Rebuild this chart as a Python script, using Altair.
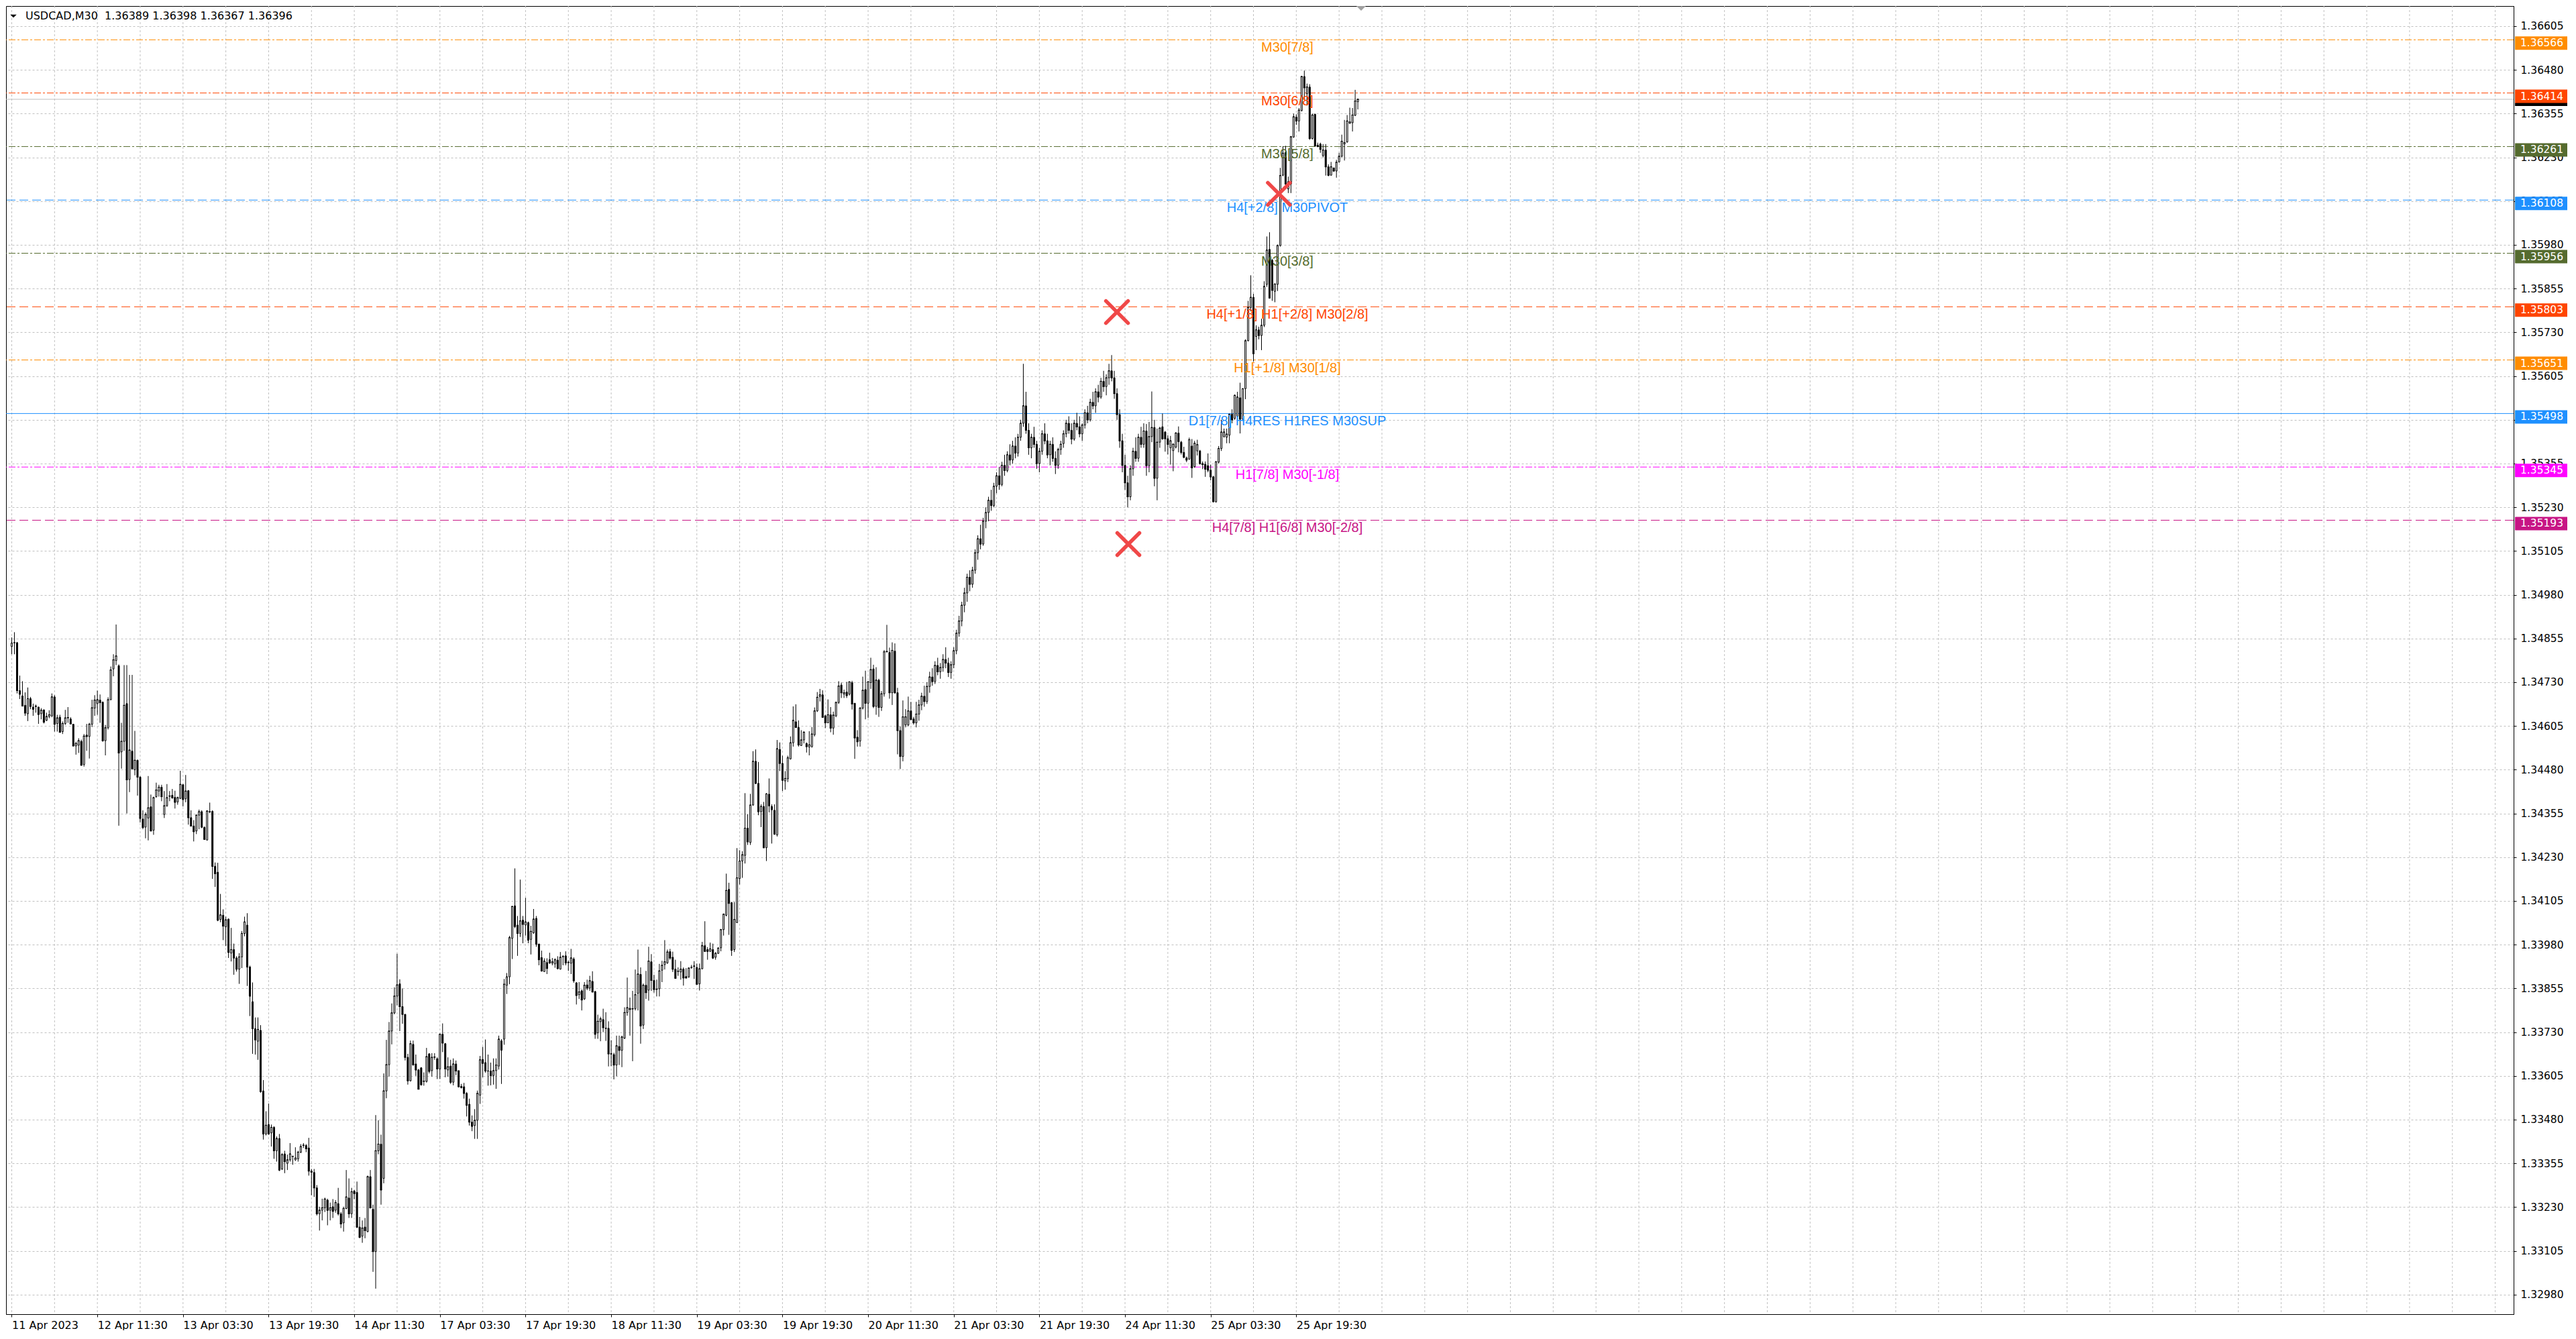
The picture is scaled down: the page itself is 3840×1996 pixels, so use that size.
import altair as alt
import pandas as pd

# ---------------- data: USDCAD M30 candles, prices in 1e-5 above 1.30000 ----------------
opens = [
    4832, 4843, 4843, 4706, 4691, 4664, 4640, 4683, 4659, 4662,
    4659, 4640, 4651, 4621, 4632, 4634, 4688, 4612, 4630, 4589,
    4612, 4628, 4625, 4610, 4548, 4550, 4561, 4495, 4579, 4575,
    4610, 4656, 4669, 4679, 4673, 4563, 4600, 4680, 4768, 4792,
    4777, 4531, 4561, 4669, 4452, 4533, 4480, 4507, 4459, 4339,
    4316, 4342, 4374, 4307, 4403, 4419, 4430, 4352, 4377, 4404,
    4407, 4401, 4388, 4398, 4437, 4397, 4420, 4343, 4319, 4305,
    4350, 4360, 4315, 4279, 4360, 4361, 4204, 4187, 4052, 4064,
    4031, 4053, 3956, 3966, 3942, 3910, 3945, 4012, 4036, 3916,
    3817, 3740, 3704, 3735, 3562, 3439, 3466, 3442, 3458, 3391,
    3426, 3339, 3382, 3355, 3365, 3375, 3365, 3368, 3387, 3406,
    3406, 3399, 3333, 3329, 3285, 3211, 3221, 3228, 3250, 3221,
    3231, 3221, 3240, 3211, 3185, 3226, 3256, 3211, 3276, 3272,
    3173, 3147, 3173, 3160, 3317, 3224, 3103, 3391, 3410, 3312,
    3562, 3637, 3733, 3785, 3833, 3868, 3803, 3781, 3658, 3591,
    3695, 3639, 3622, 3628, 3589, 3589, 3668, 3620, 3658, 3654,
    3625, 3724, 3697, 3622, 3633, 3587, 3639, 3620, 3575, 3574,
    3555, 3524, 3473, 3463, 3478, 3550, 3652, 3643, 3619, 3619,
    3606, 3620, 3633, 3705, 3710, 3864, 3888, 3998, 4091, 4036,
    4012, 4050, 4036, 4043, 3995, 4014, 4055, 3982, 3943, 3903,
    3929, 3937, 3927, 3925, 3936, 3910, 3946, 3948, 3929, 3927,
    3939, 3871, 3837, 3848, 3825, 3865, 3856, 3875, 3846, 3728,
    3760, 3766, 3741, 3741, 3668, 3666, 3636, 3689, 3678, 3713,
    3786, 3798, 3796, 3797, 3841, 3895, 3750, 3864, 3850, 3931,
    3878, 3852, 3854, 3907, 3923, 3928, 3960, 3944, 3910, 3904,
    3902, 3910, 3889, 3888, 3915, 3918, 3915, 3868, 3911, 3977,
    3966, 3961, 3966, 3944, 3955, 3971, 4023, 4064, 4138, 4100,
    3966, 4043, 4169, 4219, 4235, 4313, 4272, 4379, 4504, 4441,
    4360, 4375, 4257, 4410, 4375, 4364, 4294, 4538, 4498, 4448,
    4454, 4511, 4557, 4617, 4601, 4549, 4565, 4555, 4545, 4546,
    4580, 4648, 4689, 4694, 4634, 4614, 4637, 4599, 4634, 4672,
    4722, 4696, 4702, 4696, 4729, 4670, 4573, 4562, 4656, 4709,
    4670, 4729, 4768, 4661, 4736, 4658, 4697, 4817, 4815, 4700,
    4819, 4700, 4592, 4518, 4608, 4608, 4648, 4625, 4614,
    4639, 4665, 4690, 4675, 4718, 4745, 4732, 4778, 4760, 4772,
    4795, 4785, 4758, 4780, 4820, 4870, 4905, 4950, 4985, 5030,
    5010, 5050, 5100, 5140, 5125, 5190, 5215, 5250, 5235, 5290,
    5320, 5295, 5350, 5335, 5380, 5365, 5405, 5385, 5430, 5470,
    5520, 5450, 5400, 5430, 5410, 5355, 5390, 5440, 5420, 5380,
    5410, 5370, 5350, 5395, 5412, 5440, 5470, 5450, 5425, 5470,
    5460, 5440, 5465, 5500, 5480, 5530, 5520, 5560, 5545, 5590,
    5575, 5600, 5620, 5600, 5555, 5495, 5420, 5350, 5300, 5260,
    5340, 5390, 5370, 5430, 5410,
    5448, 5349, 5432, 5458, 5313, 5416, 5460, 5445, 5426, 5400,
    5392, 5402, 5442, 5416, 5387, 5371, 5368, 5405, 5346, 5391,
    5391, 5355, 5353, 5349, 5336, 5317, 5246, 5359, 5398, 5432,
    5430, 5436, 5496, 5484, 5490, 5543, 5482, 5569, 5706, 5801,
    5830, 5718, 5737, 5721, 5750, 5867, 5967, 5936, 5847, 5867,
    5978, 6179, 6244, 6140, 6154, 6288, 6345, 6334, 6364, 6461,
    6412, 6431, 6284, 6353, 6265, 6268, 6235, 6251, 6203, 6179,
    6200, 6191, 6217, 6233, 6268, 6274, 6327, 6329, 6350, 6389,
]
highs = [
    4858, 4873, 4845, 4749, 4733, 4701, 4715, 4688, 4669, 4666,
    4660, 4656, 4652, 4643, 4650, 4698, 4693, 4637, 4637, 4618,
    4651, 4659, 4630, 4611, 4560, 4570, 4566, 4582, 4611, 4614,
    4680, 4693, 4706, 4695, 4675, 4608, 4687, 4775, 4810, 4895,
    4781, 4614, 4779, 4779, 4751, 4751, 4591, 4509, 4461, 4364,
    4358, 4462, 4409, 4403, 4443, 4437, 4437, 4419, 4439, 4419,
    4425, 4420, 4403, 4477, 4439, 4465, 4422, 4364, 4336, 4352,
    4366, 4364, 4318, 4364, 4386, 4364, 4215, 4214, 4125, 4081,
    4060, 4055, 4028, 3983, 3947, 3956, 4019, 4060, 4070, 3920,
    3872, 3772, 3772, 3750, 3593, 3504, 3526, 3466, 3461, 3432,
    3439, 3384, 3391, 3380, 3413, 3377, 3401, 3391, 3410, 3413,
    3410, 3428, 3339, 3339, 3293, 3231, 3254, 3257, 3254, 3243,
    3253, 3250, 3285, 3216, 3231, 3336, 3312, 3285, 3279, 3303,
    3202, 3192, 3199, 3320, 3336, 3237, 3493, 3478, 3437, 3612,
    3708, 3759, 3812, 3858, 3954, 3881, 3855, 3781, 3668, 3706,
    3706, 3666, 3625, 3630, 3615, 3685, 3670, 3670, 3670, 3658,
    3726, 3755, 3699, 3658, 3651, 3655, 3649, 3620, 3582, 3585,
    3559, 3540, 3492, 3510, 3563, 3662, 3688, 3709, 3666, 3643,
    3655, 3655, 3720, 3710, 3882, 3899, 4005, 4091, 4198, 4062,
    4166, 4062, 4114, 4046, 4034, 4082, 4062, 3982, 3963, 3941,
    3941, 3957, 3942, 3941, 3947, 3959, 3950, 3961, 3934, 3968,
    3944, 3873, 3873, 3852, 3873, 3880, 3891, 3904, 3848, 3780,
    3774, 3797, 3787, 3761, 3707, 3671, 3720, 3720, 3720, 3801,
    3886, 3829, 3848, 3909, 3966, 3915, 3869, 3905, 3974, 3953,
    3894, 3880, 3925, 3934, 3993, 3966, 3968, 3960, 3937, 3915,
    3933, 3915, 3913, 3915, 3922, 3933, 3926, 3926, 3988, 4047,
    3973, 3986, 3983, 3959, 3973, 4025, 4069, 4183, 4157, 4102,
    4102, 4256, 4250, 4247, 4413, 4353, 4411, 4533, 4538, 4502,
    4381, 4388, 4413, 4455, 4381, 4381, 4565, 4558, 4520, 4476,
    4520, 4575, 4661, 4667, 4621, 4593, 4590, 4558, 4590, 4602,
    4658, 4702, 4711, 4707, 4637, 4681, 4659, 4646, 4675, 4733,
    4729, 4709, 4731, 4733, 4734, 4670, 4593, 4659, 4746, 4763,
    4734, 4800, 4780, 4773, 4740, 4705, 4822, 4894, 4829, 4844,
    4841, 4714, 4604, 4678, 4653, 4689, 4674, 4631, 4674,
    4680, 4700, 4720, 4730, 4760, 4770, 4790, 4800, 4785, 4810,
    4830, 4800, 4790, 4830, 4880, 4920, 4960, 5000, 5040, 5050,
    5060, 5110, 5150, 5180, 5200, 5230, 5260, 5280, 5300, 5330,
    5345, 5360, 5380, 5390, 5410, 5420, 5430, 5440, 5480, 5640,
    5560, 5470, 5440, 5460, 5420, 5400, 5450, 5470, 5440, 5420,
    5430, 5390, 5400, 5420, 5450, 5480, 5490, 5470, 5480, 5500,
    5490, 5470, 5510, 5520, 5540, 5560, 5570, 5580, 5600, 5620,
    5610, 5640, 5665, 5620, 5570, 5510, 5440, 5380, 5320, 5350,
    5400, 5430, 5440, 5460, 5470,
    5468, 5474, 5561, 5480, 5455, 5460, 5498, 5448, 5436, 5434,
    5413, 5445, 5461, 5420, 5403, 5375, 5429, 5425, 5420, 5423,
    5394, 5361, 5361, 5384, 5352, 5320, 5362, 5405, 5480, 5455,
    5455, 5496, 5510, 5552, 5560, 5586, 5569, 5710, 5820, 5893,
    5840, 5750, 5746, 5769, 5876, 6004, 6016, 5940, 5870, 5981,
    6200, 6262, 6263, 6175, 6291, 6355, 6353, 6371, 6463, 6478,
    6441, 6439, 6355, 6355, 6272, 6272, 6268, 6268, 6210, 6217,
    6200, 6223, 6243, 6295, 6337, 6351, 6372, 6371, 6423, 6398,
]
lows = [
    4810, 4810, 4698, 4682, 4662, 4634, 4619, 4653, 4634, 4643,
    4611, 4624, 4612, 4619, 4627, 4630, 4589, 4589, 4586, 4582,
    4608, 4614, 4611, 4547, 4523, 4528, 4491, 4489, 4534, 4512,
    4602, 4634, 4637, 4614, 4560, 4521, 4595, 4679, 4747, 4779,
    4320, 4483, 4534, 4355, 4416, 4480, 4464, 4406, 4329, 4310,
    4284, 4278, 4304, 4294, 4400, 4403, 4390, 4342, 4374, 4390,
    4397, 4369, 4380, 4396, 4375, 4387, 4323, 4318, 4275, 4296,
    4310, 4313, 4281, 4278, 4356, 4168, 4145, 4047, 4044, 3993,
    3976, 3942, 3932, 3894, 3903, 3868, 3913, 4004, 3862, 3776,
    3668, 3666, 3651, 3557, 3423, 3435, 3437, 3403, 3368, 3360,
    3333, 3336, 3327, 3336, 3360, 3351, 3362, 3360, 3384, 3399,
    3387, 3320, 3264, 3259, 3206, 3163, 3192, 3216, 3178, 3192,
    3199, 3214, 3206, 3170, 3160, 3224, 3199, 3199, 3253, 3170,
    3141, 3128, 3141, 3158, 3226, 3045, 2997, 3381, 3237, 3298,
    3541, 3603, 3695, 3781, 3807, 3733, 3754, 3649, 3580, 3589,
    3634, 3605, 3567, 3577, 3577, 3586, 3612, 3603, 3651, 3596,
    3596, 3673, 3601, 3603, 3582, 3578, 3607, 3572, 3569, 3540,
    3489, 3463, 3447, 3425, 3425, 3525, 3601, 3614, 3577, 3578,
    3580, 3568, 3623, 3582, 3694, 3839, 3867, 3939, 4027, 3948,
    4002, 3984, 4006, 3984, 3952, 4011, 3974, 3921, 3903, 3903,
    3896, 3925, 3921, 3914, 3909, 3909, 3921, 3921, 3905, 3896,
    3871, 3809, 3825, 3792, 3822, 3850, 3848, 3843, 3711, 3711,
    3704, 3730, 3705, 3632, 3633, 3595, 3604, 3636, 3630, 3710,
    3777, 3720, 3647, 3792, 3792, 3697, 3739, 3825, 3820, 3848,
    3843, 3832, 3832, 3873, 3909, 3925, 3937, 3902, 3883, 3891,
    3880, 3863, 3883, 3885, 3911, 3882, 3866, 3849, 3910, 3959,
    3937, 3959, 3939, 3937, 3954, 3961, 4006, 4061, 4008, 3948,
    3959, 4042, 4152, 4171, 4212, 4265, 4265, 4377, 4439, 4350,
    4316, 4256, 4219, 4358, 4269, 4294, 4289, 4476, 4419, 4423,
    4445, 4509, 4546, 4599, 4546, 4548, 4555, 4529, 4521, 4543,
    4575, 4645, 4675, 4629, 4599, 4614, 4587, 4580, 4630, 4668,
    4685, 4685, 4685, 4692, 4652, 4511, 4546, 4546, 4652, 4624,
    4628, 4711, 4656, 4637, 4631, 4648, 4689, 4815, 4683, 4665,
    4697, 4524, 4482, 4504, 4601, 4604, 4621, 4609, 4601,
    4620, 4650, 4660, 4668, 4700, 4720, 4725, 4750, 4740, 4760,
    4770, 4745, 4740, 4770, 4810, 4860, 4890, 4930, 4960, 4990,
    5000, 5040, 5080, 5110, 5120, 5170, 5190, 5220, 5230, 5270,
    5280, 5290, 5320, 5330, 5350, 5355, 5370, 5375, 5420, 5460,
    5440, 5380, 5370, 5400, 5340, 5330, 5380, 5410, 5370, 5350,
    5360, 5325, 5340, 5380, 5400, 5430, 5440, 5410, 5420, 5450,
    5430, 5420, 5455, 5470, 5475, 5510, 5500, 5530, 5540, 5560,
    5550, 5580, 5590, 5540, 5480, 5400, 5330, 5280, 5230, 5250,
    5320, 5360, 5360, 5400, 5400,
    5320, 5330, 5416, 5290, 5250, 5400, 5423, 5389, 5381, 5352,
    5333, 5398, 5387, 5381, 5370, 5359, 5365, 5314, 5343, 5378,
    5352, 5339, 5317, 5330, 5307, 5244, 5243, 5355, 5391, 5429,
    5413, 5413, 5470, 5480, 5478, 5441, 5480, 5539, 5704, 5790,
    5647, 5679, 5710, 5679, 5745, 5860, 5827, 5820, 5816, 5848,
    5975, 6176, 6149, 6128, 6128, 6286, 6323, 6304, 6361, 6395,
    6378, 6280, 6281, 6261, 6259, 6243, 6230, 6178, 6176, 6178,
    6189, 6172, 6215, 6230, 6221, 6272, 6326, 6304, 6348, 6367,
]
closes = [
    4842, 4843, 4706, 4696, 4662, 4642, 4683, 4661, 4653, 4661,
    4638, 4650, 4616, 4632, 4637, 4688, 4610, 4628, 4587, 4612,
    4628, 4629, 4611, 4548, 4555, 4563, 4493, 4576, 4575, 4610,
    4657, 4679, 4680, 4672, 4563, 4600, 4680, 4765, 4794, 4805,
    4528, 4561, 4664, 4451, 4536, 4483, 4507, 4459, 4341, 4315,
    4352, 4371, 4305, 4400, 4422, 4430, 4403, 4377, 4400, 4405,
    4400, 4387, 4400, 4438, 4395, 4419, 4343, 4319, 4303, 4350,
    4360, 4316, 4281, 4362, 4360, 4204, 4183, 4050, 4065, 4033,
    4051, 3958, 3966, 3942, 3910, 3945, 4012, 4045, 3916, 3833,
    3740, 3708, 3738, 3560, 3439, 3464, 3439, 3458, 3391, 3426,
    3336, 3380, 3360, 3365, 3382, 3375, 3370, 3387, 3403, 3407,
    3397, 3333, 3330, 3285, 3211, 3221, 3228, 3253, 3221, 3228,
    3218, 3243, 3211, 3182, 3226, 3259, 3211, 3274, 3269, 3173,
    3144, 3170, 3163, 3317, 3228, 3103, 3391, 3410, 3279, 3562,
    3637, 3733, 3785, 3833, 3865, 3803, 3781, 3658, 3591, 3697,
    3637, 3622, 3567, 3580, 3590, 3660, 3618, 3658, 3659, 3625,
    3724, 3699, 3625, 3631, 3587, 3639, 3619, 3574, 3572, 3555,
    3521, 3473, 3461, 3478, 3555, 3651, 3641, 3619, 3619, 3606,
    3620, 3636, 3710, 3679, 3867, 3888, 4000, 4089, 4032, 4012,
    4048, 4038, 4045, 3993, 4018, 4053, 3982, 3937, 3905, 3933,
    3912, 3928, 3931, 3937, 3912, 3944, 3946, 3928, 3929, 3942,
    3877, 3835, 3845, 3822, 3864, 3856, 3877, 3845, 3724, 3761,
    3768, 3743, 3741, 3668, 3668, 3636, 3691, 3678, 3716, 3786,
    3800, 3795, 3797, 3837, 3896, 3748, 3864, 3843, 3933, 3878,
    3852, 3853, 3905, 3921, 3931, 3959, 3942, 3910, 3884, 3904,
    3910, 3885, 3885, 3913, 3915, 3919, 3867, 3911, 3977, 3961,
    3961, 3968, 3942, 3955, 3970, 4023, 4067, 4135, 4098, 3964,
    4052, 4171, 4219, 4237, 4313, 4274, 4379, 4504, 4441, 4360,
    4375, 4257, 4411, 4377, 4366, 4296, 4540, 4498, 4450, 4455,
    4514, 4557, 4621, 4601, 4551, 4565, 4587, 4546, 4551, 4582,
    4648, 4687, 4694, 4630, 4614, 4637, 4599, 4636, 4672, 4719,
    4700, 4700, 4692, 4731, 4668, 4571, 4560, 4656, 4707, 4670,
    4731, 4766, 4661, 4736, 4658, 4697, 4817, 4818, 4700, 4821,
    4700, 4592, 4518, 4631, 4631, 4648, 4624, 4614, 4639,
    4665, 4690, 4675, 4718, 4745, 4732, 4778, 4760, 4772, 4795,
    4785, 4758, 4780, 4820, 4870, 4905, 4950, 4985, 5030, 5010,
    5050, 5100, 5140, 5125, 5190, 5215, 5250, 5235, 5290, 5320,
    5295, 5350, 5335, 5380, 5365, 5405, 5385, 5430, 5470, 5520,
    5450, 5400, 5430, 5410, 5355, 5390, 5440, 5420, 5380, 5410,
    5370, 5350, 5395, 5410, 5440, 5470, 5450, 5425, 5470, 5460,
    5440, 5465, 5500, 5480, 5530, 5520, 5560, 5545, 5590, 5575,
    5600, 5620, 5600, 5555, 5495, 5420, 5350, 5300, 5260, 5340,
    5390, 5370, 5430, 5410, 5448,
    5349, 5432, 5458, 5313, 5416, 5456, 5426, 5426, 5410, 5420,
    5410, 5442, 5418, 5387, 5373, 5365, 5423, 5343, 5413, 5409,
    5355, 5352, 5339, 5336, 5317, 5246, 5360, 5398, 5445, 5445,
    5439, 5496, 5480, 5550, 5545, 5482, 5569, 5706, 5801, 5830,
    5669, 5737, 5721, 5750, 5861, 5965, 5828, 5850, 5868, 5978,
    6178, 6242, 6154, 6160, 6289, 6346, 6334, 6365, 6461, 6429,
    6431, 6284, 6351, 6263, 6261, 6253, 6251, 6203, 6179, 6203,
    6191, 6216, 6233, 6276, 6272, 6334, 6331, 6351, 6391, 6396,
]
assert len(opens) == len(highs) == len(lows) == len(closes)

# time-axis labels (every 32 bars of M30)
x_label_texts = ["11 Apr 2023", "12 Apr 11:30", "13 Apr 03:30", "13 Apr 19:30",
                 "14 Apr 11:30", "17 Apr 03:30", "17 Apr 19:30", "18 Apr 11:30",
                 "19 Apr 03:30", "19 Apr 19:30", "20 Apr 11:30", "21 Apr 03:30",
                 "21 Apr 19:30", "24 Apr 11:30", "25 Apr 03:30", "25 Apr 19:30"]
x_label_step = 32

# price-axis ticks
y_tick_first = 1.32980
y_tick_step = 0.00125
y_tick_count = 30

# Murrey-math levels
level_prices = [1.36566, 1.36414, 1.36261, 1.36108, 1.35956,
                1.35803, 1.35651, 1.35498, 1.35345, 1.35193]
level_texts = ["M30[7/8]", "M30[6/8]", "M30[5/8]", "H4[+2/8] M30PIVOT", "M30[3/8]",
               "H4[+1/8] H1[+2/8] M30[2/8]", "H1[+1/8] M30[1/8]",
               "D1[7/8] H4RES H1RES M30SUP", "H1[7/8] M30[-1/8]", "H4[7/8] H1[6/8] M30[-2/8]"]
level_colors = ["#FF8C00", "#FF4500", "#556B2F", "#1E90FF", "#556B2F",
                "#FF4500", "#FF8C00", "#1E90FF", "#FF00FF", "#C71585"]
level_styles = ["dashdot", "dashdot", "dashdot", "dash", "dashdot",
                "dash", "dashdot", "solid", "dashdot", "dash"]

# red cross markers (bar index, price)
marker_bars = [413.0, 473.5, 417.25]
marker_prices = [1.35788, 1.36126, 1.35125]

title_text = "USDCAD,M30\u00a0 1.36389 1.36398 1.36367 1.36396"

# ---------------- layout ----------------
BASE = 1.30000
W, H = 3738, 1950
PX_PER_UNIT = 52160.0
Y_TOP = 1.366625
Y_BOT = Y_TOP - H / PX_PER_UNIT
X0 = -0.875
X1 = X0 + W / 4.0
LABEL_X = 1910
FONT = "DejaVu Sans"
GRID = "#C0C0C0"

n = len(closes)
o = [BASE + v * 1e-5 for v in opens]
c = [BASE + v * 1e-5 for v in closes]
hi = [max(BASE + v * 1e-5, a, b) for v, a, b in zip(highs, o, c)]
lo = [min(BASE + v * 1e-5, a, b) for v, a, b in zip(lows, o, c)]
candles = pd.DataFrame({
    "bar": list(range(n)), "open": o, "high": hi, "low": lo, "close": c,
    "dir": ["up" if cc >= oo else "down" for oo, cc in zip(o, c)],
})

xs = alt.Scale(domain=[X0, X1], nice=False, zero=False)
ys = alt.Scale(domain=[Y_BOT, Y_TOP], nice=False, zero=False)

x_label_bars = [k * x_label_step for k in range(len(x_label_texts))]
label_expr = "[" + ",".join("'%s'" % t for t in x_label_texts) + "][round(datum.value / %d)]" % x_label_step
xaxis = alt.Axis(values=x_label_bars, labelExpr=label_expr, grid=False, title=None,
                 labelFont=FONT, labelFontSize=16, labelColor="black", labelAlign="left",
                 labelBaseline="top", labelPadding=4, tickSize=4, tickColor="black",
                 domainColor="black", labelFlush=False, labelOverlap=False)
y_ticks = [round(y_tick_first + k * y_tick_step, 5) for k in range(y_tick_count)]
yaxis = alt.Axis(orient="right", values=y_ticks, format=".5f", title=None, grid=True,
                 gridColor=GRID, gridDash=[3, 3], gridWidth=1, labelFont=FONT,
                 labelFontSize=15.5, labelColor="black", labelPadding=6, tickSize=4,
                 tickColor="black", domainColor="black", labelOverlap=False)

X = lambda f: alt.X(f, scale=xs, axis=xaxis)
Y = lambda f: alt.Y(f, scale=ys, axis=yaxis)

# vertical grid every 16 bars
vgrid_df = pd.DataFrame({"bar": list(range(0, int(X1) + 1, 16))})
vgrid = alt.Chart(vgrid_df).mark_rule(color=GRID, strokeDash=[3, 3], strokeWidth=1).encode(
    x=X("bar:Q"))

levels = pd.DataFrame({"price": level_prices, "text": level_texts,
                       "color": level_colors, "style": level_styles})
dash_scale = alt.Scale(domain=["dashdot", "dash", "solid"],
                       range=[[10, 3, 3, 3], [13, 6], [1, 0]])
level_rules = alt.Chart(levels).mark_rule(strokeWidth=1).encode(
    y=Y("price:Q"),
    color=alt.Color("color:N", scale=None),
    strokeDash=alt.StrokeDash("style:N", scale=dash_scale, legend=None))

bid_df = pd.DataFrame({"price": [c[-1]]})
bid_rule = alt.Chart(bid_df).mark_rule(color="#BEBEBE", strokeWidth=1).encode(y=Y("price:Q"))

wicks = alt.Chart(candles).mark_rule(color="black", strokeWidth=1).encode(
    x=X("bar:Q"), y=Y("low:Q"), y2="high:Q")
bodies = alt.Chart(candles).mark_bar(size=2, stroke="black", strokeWidth=1).encode(
    x=X("bar:Q"), y=Y("open:Q"), y2="close:Q",
    fill=alt.Fill("dir:N", scale=alt.Scale(domain=["up", "down"], range=["white", "black"]),
                  legend=None))
dojis = alt.Chart(candles).mark_tick(orient="horizontal", size=3, thickness=1,
                                    color="black", opacity=1).encode(
    x=X("bar:Q"), y=Y("close:Q"))

level_text = alt.Chart(levels).mark_text(font="Liberation Sans", fontSize=20, align="center",
                                         baseline="alphabetic", dy=18).encode(
    x=alt.value(LABEL_X), y=Y("price:Q"), text="text:N",
    color=alt.Color("color:N", scale=None))

markers_df = pd.DataFrame({"bar": marker_bars, "price": marker_prices})
markers = alt.Chart(markers_df).mark_point(shape="M-1,-1L1,1M1,-1L-1,1", filled=False,
                                          size=1089, strokeWidth=5.5, color="#F04848",
                                          opacity=1, strokeCap="round").encode(
    x=X("bar:Q"), y=Y("price:Q"))

# price tags on the right axis
tag_df = pd.DataFrame({"price": level_prices, "color": level_colors,
                       "label": ["%.5f" % p for p in level_prices]})
tag_df["top"] = tag_df["price"] + 5 / PX_PER_UNIT
tag_df["bot"] = tag_df["price"] - 15 / PX_PER_UNIT
bid_tag = pd.DataFrame({"price": [c[-1]]})
bid_tag["top"] = bid_tag["price"] + 5 / PX_PER_UNIT
bid_tag["bot"] = bid_tag["price"] - 10 / PX_PER_UNIT
bid_box = alt.Chart(bid_tag).mark_rect(color="black").encode(
    x=alt.value(W + 2), x2=alt.value(W + 80), y=Y("top:Q"), y2="bot:Q")
tag_box = alt.Chart(tag_df).mark_rect().encode(
    x=alt.value(W + 2), x2=alt.value(W + 80), y=Y("top:Q"), y2="bot:Q",
    color=alt.Color("color:N", scale=None))
tag_text = alt.Chart(tag_df).mark_text(font=FONT, fontSize=15.5, align="left",
                                       baseline="middle", dy=5, color="white").encode(
    x=alt.value(W + 10), y=Y("price:Q"), text="label:N")

one = pd.DataFrame({"t": [title_text]})
title_tri = alt.Chart(one).mark_point(shape="M-1,-0.5L1,-0.5L0,0.5Z", filled=True, size=90,
                                      color="black", opacity=1).encode(
    x=alt.value(11), y=alt.value(15))
title = alt.Chart(one).mark_text(font=FONT, fontSize=16, align="left", baseline="middle",
                                 color="black").encode(
    x=alt.value(29), y=alt.value(15), text="t:N")
shift_mark = alt.Chart(one).mark_point(shape="M-1,-1L1,-1L0,0Z", filled=True, size=196,
                                       color="#A0A0A0", opacity=1).encode(
    x=alt.value(2020), y=alt.value(7))

chart = alt.layer(
    vgrid, level_rules, bid_rule, wicks, bodies, dojis, level_text, markers,
    bid_box, tag_box, tag_text, title_tri, title, shift_mark
).properties(
    width=W, height=H,
    padding={"left": 0, "top": 0, "right": 2, "bottom": 0},
    background="white",
).configure_view(stroke="black", strokeWidth=1)

chart.save("out.html", embed_options={"renderer": "svg", "actions": False})
